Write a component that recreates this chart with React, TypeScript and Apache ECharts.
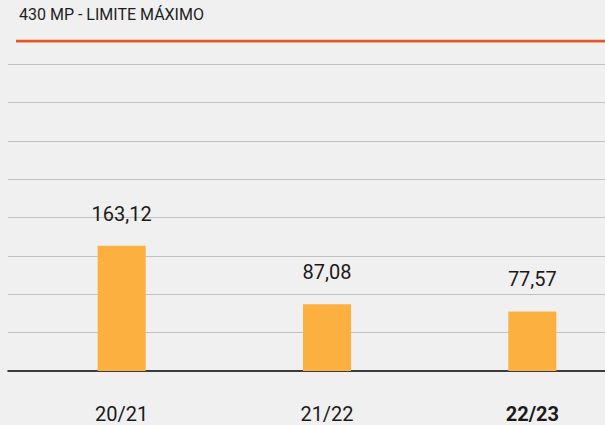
import React, { useEffect, useRef } from "react";
import * as echarts from "echarts";

const categories = ["20/21", "21/22", "22/23"];
const values = [163.12, 87.08, 77.57];
const limitValue = 430;
const limitLabel = "430 MP - LIMITE MÁXIMO";
const yMax = 430;
const yInterval = 50;

export default function App() {
  const ref = useRef<HTMLDivElement>(null);
  useEffect(() => {
    if (!ref.current) return;
    const chart = echarts.init(ref.current, undefined, { renderer: "svg" });
    const font = "Roboto, 'Noto Sans', sans-serif";
    const gridTop = 41;
    const gridBottom = 54;
    chart.setOption({
      animation: false,
      backgroundColor: "#f0f0f0",
      textStyle: { fontFamily: font },
      title: {
        text: limitLabel,
        left: 14,
        top: 1,
        textStyle: { fontFamily: font, fontSize: 16, fontWeight: "normal", color: "#1e1e1e" },
      },
      grid: [
        { left: 19, width: 616, top: gridTop, bottom: gridBottom, outerBoundsMode: "none" },
        { left: 8, right: 0, top: gridTop, bottom: gridBottom, outerBoundsMode: "none" },
        { left: 16, right: 0, top: gridTop, bottom: gridBottom, outerBoundsMode: "none" },
      ],
      xAxis: [
        {
          gridIndex: 0,
          type: "category",
          data: categories,
          axisLine: { show: false },
          axisTick: { show: false },
          splitLine: { show: false },
          axisLabel: {
            margin: 33,
            fontSize: 20,
            color: "#1a1a1a",
            fontFamily: font,
            formatter: (v: string, i: number) =>
              i === categories.length - 1 ? `{b|${v}}` : v,
            rich: {
              b: { fontSize: 20, fontWeight: "bold", color: "#1a1a1a", fontFamily: font },
            },
          },
        },
        {
          gridIndex: 1,
          type: "value",
          min: 0,
          max: 1,
          axisLine: { show: true, onZero: false, lineStyle: { color: "#000", width: 1.5 } },
          axisTick: { show: false },
          axisLabel: { show: false },
          splitLine: { show: false },
        },
        {
          gridIndex: 2,
          type: "value",
          min: 0,
          max: 1,
          show: false,
        },
      ],
      yAxis: [
        { gridIndex: 0, type: "value", min: 0, max: yMax, interval: yInterval, show: false },
        {
          gridIndex: 1,
          type: "value",
          min: 0,
          max: yMax,
          interval: yInterval,
          axisLine: { show: false },
          axisTick: { show: false },
          axisLabel: { show: false },
          splitLine: {
            show: true,
            showMinLine: false,
            showMaxLine: false,
            lineStyle: { color: "#c2c2c2", width: 1 },
          },
        },
        { gridIndex: 2, type: "value", min: 0, max: yMax, show: false },
      ],
      series: [
        {
          type: "bar",
          xAxisIndex: 0,
          yAxisIndex: 0,
          data: values,
          barWidth: 48,
          itemStyle: { color: "#fbb040" },
          label: {
            show: true,
            position: "top",
            distance: 22,
            fontSize: 20,
            color: "#1a1a1a",
            fontFamily: font,
            formatter: (p: any) => p.value.toFixed(2).replace(".", ","),
          },
        },
        {
          type: "line",
          xAxisIndex: 2,
          yAxisIndex: 2,
          data: [
            [0, limitValue],
            [1, limitValue],
          ],
          symbol: "none",
          lineStyle: { color: "#e8572a", width: 3 },
          silent: true,
        },
      ],
    });
    return () => chart.dispose();
  }, []);
  return <div ref={ref} style={{ width: 605, height: 425, position: "absolute", left: 0, top: 0 }} />;
}
